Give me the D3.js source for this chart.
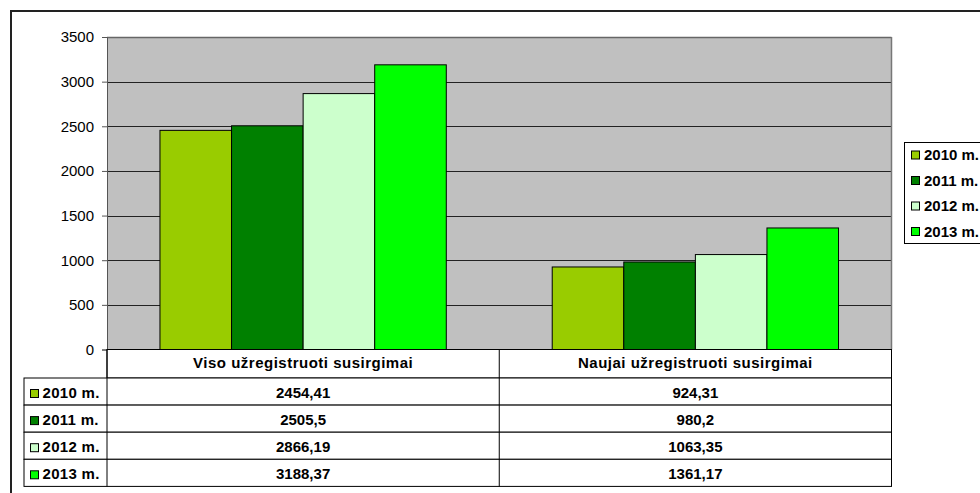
<!DOCTYPE html>
<html><head><meta charset="utf-8">
<script src="https://cdn.jsdelivr.net/npm/d3@7"></script>
<style>body{margin:0;background:#fff}svg{display:block}text{font-family:"Liberation Sans",Arial,sans-serif}</style>
</head><body>
<svg id="c" width="980" height="493"></svg>
<script>
const categories = ["Viso užregistruoti susirgimai", "Naujai užregistruoti susirgimai"];
const seriesNames = ["2010 m.", "2011 m.", "2012 m.", "2013 m."];
const values2010 = [2454.41, 924.31];
const values2011 = [2505.5, 980.2];
const values2012 = [2866.19, 1063.35];
const values2013 = [3188.37, 1361.17];
const valueLabels2010 = ["2454,41", "924,31"];
const valueLabels2011 = ["2505,5", "980,2"];
const valueLabels2012 = ["2866,19", "1063,35"];
const valueLabels2013 = ["3188,37", "1361,17"];
const yTicks = [0, 500, 1000, 1500, 2000, 2500, 3000, 3500];
const colors = ["#99CC00", "#008000", "#CCFFCC", "#00FF00"];

const series = [values2010, values2011, values2012, values2013];
const labels = [valueLabels2010, valueLabels2011, valueLabels2012, valueLabels2013];

const svg = d3.select("#c");
const L = 107, R = 891.5, T = 37, B = 349.5;
const FS = 15;

// outer border
svg.append("rect").attr("x", 11).attr("y", 11).attr("width", 1000).attr("height", 500)
  .attr("fill", "none").attr("stroke", "#222").attr("stroke-width", 2);

const x0 = d3.scaleBand().domain(categories).range([L, R]);
const y = d3.scaleLinear().domain([0, 3500]).range([B, T]);
const barW = x0.bandwidth() / 5.48;
const x1 = d3.scaleBand().domain(seriesNames).range([0, barW * 4]);

// plot area
svg.append("rect").attr("x", L).attr("y", T).attr("width", R - L).attr("height", B - T)
  .attr("fill", "#C0C0C0");
// gridlines
svg.append("g").selectAll("line").data(yTicks.slice(1)).join("line")
  .attr("x1", L).attr("x2", R).attr("y1", d => Math.round(y(d)) + 0.5).attr("y2", d => Math.round(y(d)) + 0.5)
  .attr("stroke", "#222").attr("stroke-width", 1);
svg.append("line").attr("x1", L).attr("x2", R).attr("y1", T + 0.5).attr("y2", T + 0.5).attr("stroke", "#666").attr("stroke-width", 1.5);
svg.append("line").attr("x1", R).attr("x2", R).attr("y1", T).attr("y2", B).attr("stroke", "#777").attr("stroke-width", 1.5);

// bars
categories.forEach((c, ci) => {
  const off = x0(c) + (x0.bandwidth() - barW * 4) / 2;
  svg.append("g").selectAll("rect").data(series.map((s, si) => ({ v: s[ci], si }))).join("rect")
    .attr("x", d => off + x1(seriesNames[d.si]))
    .attr("y", d => y(d.v))
    .attr("width", x1.bandwidth())
    .attr("height", d => y(0) - y(d.v))
    .attr("fill", d => colors[d.si])
    .attr("stroke", "#000").attr("stroke-width", 1);
});

// y axis
const yAxis = d3.axisLeft(y).tickValues(yTicks).tickSize(5).tickPadding(8).tickFormat(d3.format("d"));
const ga = svg.append("g").attr("transform", `translate(${L},0)`).call(yAxis);
ga.select(".domain").attr("stroke", "#555");
ga.selectAll(".tick line").attr("stroke", "#555");
ga.selectAll("text").attr("font-size", FS).attr("fill", "#000").attr("font-family", "Liberation Sans, Arial, sans-serif");

// data table
const rowTop = 378, rowH = 27.1, headTop = B;
const tbl = svg.append("g");
tbl.append("rect").attr("x", L).attr("y", headTop).attr("width", R - L).attr("height", rowTop - headTop)
  .attr("fill", "#fff").attr("stroke", "#000").attr("stroke-width", 1);
tbl.selectAll("text.h").data(categories).join("text").attr("class", "h")
  .attr("x", d => x0(d) + x0.bandwidth() / 2).attr("y", headTop + 18.5)
  .attr("text-anchor", "middle").attr("font-size", FS).attr("font-weight", "bold").attr("letter-spacing", 0.5)
  .text(d => d);
seriesNames.forEach((s, si) => {
  const yt = rowTop + si * rowH;
  tbl.append("rect").attr("x", 24).attr("y", yt).attr("width", R - 24).attr("height", rowH)
    .attr("fill", "#fff").attr("stroke", "#000").attr("stroke-width", 1);
  tbl.append("rect").attr("x", 30.5).attr("y", yt + 11.5).attr("width", 8).attr("height", 8)
    .attr("fill", colors[si]).attr("stroke", "#000").attr("stroke-width", 1);
  tbl.append("text").attr("x", 42.5).attr("y", yt + 20).attr("font-size", FS).attr("font-weight", "bold")
    .attr("letter-spacing", 0.3).text(s);
  categories.forEach((c, ci) => {
    tbl.append("text").attr("x", x0(c) + x0.bandwidth() / 2).attr("y", yt + 20)
      .attr("text-anchor", "middle").attr("font-size", FS).attr("font-weight", "bold").text(labels[si][ci]);
  });
});
tbl.append("line").attr("x1", L).attr("x2", L).attr("y1", headTop).attr("y2", rowTop + 4 * rowH).attr("stroke", "#000");
tbl.append("line").attr("x1", x0(categories[1])).attr("x2", x0(categories[1])).attr("y1", headTop).attr("y2", rowTop + 4 * rowH).attr("stroke", "#000");

// legend
const lg = svg.append("g");
lg.append("rect").attr("x", 904.5).attr("y", 142.5).attr("width", 100).attr("height", 101)
  .attr("fill", "#fff").attr("stroke", "#000").attr("stroke-width", 1);
seriesNames.forEach((s, si) => {
  const yy = 155 + si * 25.5;
  lg.append("rect").attr("x", 911.5).attr("y", yy - 4).attr("width", 8).attr("height", 8)
    .attr("fill", colors[si]).attr("stroke", "#000").attr("stroke-width", 1);
  lg.append("text").attr("x", 924).attr("y", yy + 5).attr("font-size", FS).attr("font-weight", "bold")
    .text(s);
});
</script>
</body></html>
